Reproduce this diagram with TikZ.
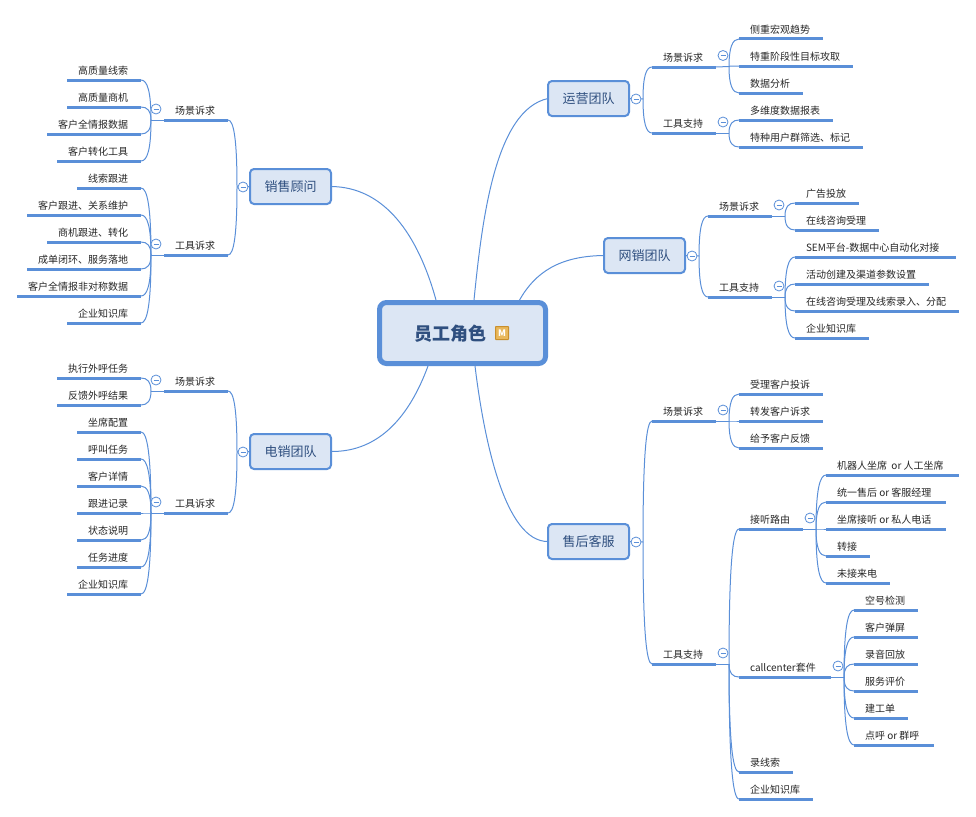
\documentclass[tikz,border=0pt]{standalone}
\usepackage{fontspec}
\setmainfont{Noto Sans CJK SC}
\usetikzlibrary{calc}
\definecolor{mapline}{HTML}{5A8FD8}
\definecolor{mapfill}{HTML}{DCE6F4}
\definecolor{maptext}{HTML}{2F4F7F}
\definecolor{leafink}{HTML}{262626}
\definecolor{iconfill}{HTML}{E9B85C}
\definecolor{iconedge}{HTML}{C98F2C}
\tikzset{
  barnode/.style={rectangle,draw=none,inner sep=0pt,outer sep=0pt,minimum height=0pt},
  barline/.style={draw=mapline,line width=3pt},
  leaftext/.style={inner sep=0pt,outer sep=0pt,text=leafink,font=\fontsize{10}{12}\selectfont},
  topicbox/.style={rectangle,rounded corners=4pt,draw=mapline,fill=mapfill,line width=2pt,text=maptext,inner sep=0pt,outer sep=0pt,minimum width=81pt,minimum height=35pt,font=\fontsize{13}{15}\selectfont},
  rootbox/.style={rectangle,rounded corners=7pt,draw=mapline,fill=mapfill,line width=5pt,inner sep=0pt,outer sep=0pt,minimum width=166pt,minimum height=61pt},
  roottext/.style={inner sep=0pt,text=maptext,font=\fontsize{18}{20}\selectfont\bfseries},
  conn/.style={draw=mapline,line width=1pt},
  fold/.style={circle,draw=mapline,fill=white,line width=0.8pt,minimum size=10pt,inner sep=0pt,outer sep=0pt},
  priority/.style={rectangle,rounded corners=0.5pt,draw=iconedge,fill=iconfill,line width=1pt,minimum size=13pt,inner sep=0pt,text=white,font=\fontsize{9}{9}\selectfont\bfseries}
}
\newcommand\barbase[4]{%
  \pgfmathsetmacro\barw{#3-#2}\pgfmathsetmacro\barc{(#2+#3)/2}%
  \node[barnode,minimum width=\barw pt] (#1) at (\barc,#4) {};
  \draw[barline] (#1.west) -- (#1.east);}
% name, x1, x2, y, text: text starts inside the bar
\newcommand\barR[5]{\barbase{#1}{#2}{#3}{#4}\node[leaftext,anchor=base west] (#1t) at ({#2+11},{#4-5.5}) {#5};}
\newcommand\barL[5]{\barbase{#1}{#2}{#3}{#4}\node[leaftext,anchor=base east] (#1t) at ({#3-13},{#4-5.5}) {#5};}
% curved connector from a junction to a bar end
\newcommand\link[2]{\draw[conn] let \p1=(#1),\p2=(#2),\p3=(\x1,\y2) in (\p1) .. controls ($(\p3)!0.3!(\p1)$) and ($(\p3)!0.35!(\p2)$) .. (\p2);}
\newcommand\foldmark[3]{\node[fold] (#1) at (#2,#3) {\textcolor{mapline}{\rule{5pt}{0.8pt}}};}
\begin{document}
\begin{tikzpicture}[x=1pt,y=-1pt]
\useasboundingbox (0,0) rectangle (976,816);
% root and topics
\node[rootbox] (root) at (462.5,333) {};
\node[roottext] (roott) at (450,333.5) {员工角色};
\node[priority] (rooticon) at (502,333) {M};
\node[topicbox] (yy) at (588.5,98.5) {运营团队};
\node[topicbox] (wx) at (644.5,255.5) {网销团队};
\node[topicbox] (sh) at (588.5,541.5) {售后客服};
\node[topicbox] (xs) at (290.5,186.5) {销售顾问};
\node[topicbox] (dx) at (290.5,451.5) {电销团队};
\coordinate (r1) at (474,300);
\coordinate (r2) at (519,301);
\coordinate (r3) at (475,366);
\coordinate (r4) at (436,300);
\coordinate (r5) at (428,366);
\draw[conn] (r1) .. controls (482,220) and (495,110) .. (yy.west);
\draw[conn] (r2) .. controls (535,272) and (560,256) .. (wx.west);
\draw[conn] (r3) .. controls (484,440) and (505,542) .. (sh.west);
\draw[conn] (r4) .. controls (418,235) and (385,187) .. (xs.east);
\draw[conn] (r5) .. controls (410,415) and (380,452) .. (dx.east);

% ---------- 运营团队
\coordinate (yyj) at (643,99);
\barR{yya}{652}{716}{67}{场景诉求}
\barR{yyb}{652}{716}{133}{工具支持}
\barR{yya1}{739}{823}{39}{侧重宏观趋势}
\barR{yya2}{739}{853}{66}{特重阶段性目标攻取}
\barR{yya3}{739}{803}{93}{数据分析}
\barR{yyb1}{739}{833}{120}{多维度数据报表}
\barR{yyb2}{739}{863}{147}{特种用户群筛选、标记}
\coordinate (yyaj) at (729,66.5);
\coordinate (yybj) at (729,133);
\draw[conn] (yy.east) -- (yyj);
\link{yyj}{yya.west}\link{yyj}{yyb.west}
\draw[conn] (yya.east) -- (yyaj);
\draw[conn] (yyb.east) -- (yybj);
\link{yyaj}{yya1.west}\link{yyaj}{yya2.west}\link{yyaj}{yya3.west}
\link{yybj}{yyb1.west}\link{yybj}{yyb2.west}
\foldmark{yyf}{636}{99}\foldmark{yyaf}{723}{55.5}\foldmark{yybf}{723}{122}

% ---------- 网销团队
\coordinate (wxj) at (699,256);
\barR{wxa}{708}{772}{216}{场景诉求}
\barR{wxb}{708}{772}{297}{工具支持}
\barR{wxa1}{795}{859}{203}{广告投放}
\barR{wxa2}{795}{879}{230}{在线咨询受理}
\barR{wxb1}{795}{956}{257}{SEM平台-数据中心自动化对接}
\barR{wxb2}{795}{929}{284}{活动创建及渠道参数设置}
\barR{wxb3}{795}{959}{311}{在线咨询受理及线索录入、分配}
\barR{wxb4}{795}{869}{338}{企业知识库}
\coordinate (wxaj) at (785,216);
\coordinate (wxbj) at (785,297);
\draw[conn] (wx.east) -- (wxj);
\link{wxj}{wxa.west}\link{wxj}{wxb.west}
\draw[conn] (wxa.east) -- (wxaj);
\draw[conn] (wxb.east) -- (wxbj);
\link{wxaj}{wxa1.west}\link{wxaj}{wxa2.west}
\link{wxbj}{wxb1.west}\link{wxbj}{wxb2.west}\link{wxbj}{wxb3.west}\link{wxbj}{wxb4.west}
\foldmark{wxf}{692}{256}\foldmark{wxaf}{779}{205}\foldmark{wxbf}{779}{286}

% ---------- 售后客服
\coordinate (shj) at (643,542);
\barR{sha}{652}{716}{421}{场景诉求}
\barR{shb}{652}{716}{664}{工具支持}
\barR{sha1}{739}{823}{394}{受理客户投诉}
\barR{sha2}{739}{823}{421}{转发客户诉求}
\barR{sha3}{739}{823}{448}{给予客户反馈}
\barR{shb1}{739}{803}{529}{接听路由}
\barR{shb2}{739}{831}{677}{callcenter套件}
\barR{shb3}{739}{793}{772}{录线索}
\barR{shb4}{739}{813}{799}{企业知识库}
\barR{shc1}{826}{959}{475}{机器人坐席\ \ or 人工坐席}
\barR{shc2}{826}{946}{502}{统一售后 or 客服经理}
\barR{shc3}{826}{946}{529}{坐席接听 or 私人电话}
\barR{shc4}{826}{870}{556}{转接}
\barR{shc5}{826}{890}{583}{未接来电}
\barR{shd1}{854}{918}{610}{空号检测}
\barR{shd2}{854}{918}{637}{客户弹屏}
\barR{shd3}{854}{918}{664}{录音回放}
\barR{shd4}{854}{918}{691}{服务评价}
\barR{shd5}{854}{908}{718}{建工单}
\barR{shd6}{854}{934}{745}{点呼 or 群呼}
\coordinate (shaj) at (729,421);
\coordinate (shbj) at (729,664);
\coordinate (shcj) at (816,529);
\coordinate (shdj) at (844,677);
\draw[conn] (sh.east) -- (shj);
\link{shj}{sha.west}\link{shj}{shb.west}
\draw[conn] (sha.east) -- (shaj);
\draw[conn] (shb.east) -- (shbj);
\link{shaj}{sha1.west}\link{shaj}{sha2.west}\link{shaj}{sha3.west}
\link{shbj}{shb1.west}\link{shbj}{shb2.west}\link{shbj}{shb3.west}\link{shbj}{shb4.west}
\draw[conn] (shb1.east) -- (shcj);
\draw[conn] (shb2.east) -- (shdj);
\link{shcj}{shc1.west}\link{shcj}{shc2.west}\link{shcj}{shc3.west}\link{shcj}{shc4.west}\link{shcj}{shc5.west}
\link{shdj}{shd1.west}\link{shdj}{shd2.west}\link{shdj}{shd3.west}\link{shdj}{shd4.west}\link{shdj}{shd5.west}\link{shdj}{shd6.west}
\foldmark{shf}{636}{542}\foldmark{shaf}{723}{410}\foldmark{shbf}{723}{653}\foldmark{shcf}{810}{518}\foldmark{shdf}{838}{666}

% ---------- 销售顾问
\coordinate (xsj) at (237,187);
\barL{xsa}{164}{228}{120}{场景诉求}
\barL{xsb}{164}{228}{255}{工具诉求}
\barL{xsa1}{67}{141}{80}{高质量线索}
\barL{xsa2}{67}{141}{107}{高质量商机}
\barL{xsa3}{47}{141}{134}{客户全情报数据}
\barL{xsa4}{57}{141}{161}{客户转化工具}
\barL{xsb1}{77}{141}{188}{线索跟进}
\barL{xsb2}{27}{141}{215}{客户跟进、关系维护}
\barL{xsb3}{47}{141}{242}{商机跟进、转化}
\barL{xsb4}{27}{141}{269}{成单闭环、服务落地}
\barL{xsb5}{17}{141}{296}{客户全情报非对称数据}
\barL{xsb6}{67}{141}{323}{企业知识库}
\coordinate (xsaj) at (151,120);
\coordinate (xsbj) at (151,255);
\draw[conn] (xs.west) -- (xsj);
\link{xsj}{xsa.east}\link{xsj}{xsb.east}
\draw[conn] (xsa.west) -- (xsaj);
\draw[conn] (xsb.west) -- (xsbj);
\link{xsaj}{xsa1.east}\link{xsaj}{xsa2.east}\link{xsaj}{xsa3.east}\link{xsaj}{xsa4.east}
\link{xsbj}{xsb1.east}\link{xsbj}{xsb2.east}\link{xsbj}{xsb3.east}\link{xsbj}{xsb4.east}\link{xsbj}{xsb5.east}\link{xsbj}{xsb6.east}
\foldmark{xsf}{243}{187}\foldmark{xsaf}{156}{109}\foldmark{xsbf}{156}{244}

% ---------- 电销团队
\coordinate (dxj) at (237,452);
\barL{dxa}{164}{228}{391}{场景诉求}
\barL{dxb}{164}{228}{513}{工具诉求}
\barL{dxa1}{57}{141}{378}{执行外呼任务}
\barL{dxa2}{57}{141}{405}{反馈外呼结果}
\barL{dxb1}{77}{141}{432}{坐席配置}
\barL{dxb2}{77}{141}{459}{呼叫任务}
\barL{dxb3}{77}{141}{486}{客户详情}
\barL{dxb4}{77}{141}{513}{跟进记录}
\barL{dxb5}{77}{141}{540}{状态说明}
\barL{dxb6}{77}{141}{567}{任务进度}
\barL{dxb7}{67}{141}{594}{企业知识库}
\coordinate (dxaj) at (151,391);
\coordinate (dxbj) at (151,513);
\draw[conn] (dx.west) -- (dxj);
\link{dxj}{dxa.east}\link{dxj}{dxb.east}
\draw[conn] (dxa.west) -- (dxaj);
\draw[conn] (dxb.west) -- (dxbj);
\link{dxaj}{dxa1.east}\link{dxaj}{dxa2.east}
\link{dxbj}{dxb1.east}\link{dxbj}{dxb2.east}\link{dxbj}{dxb3.east}\link{dxbj}{dxb4.east}\link{dxbj}{dxb5.east}\link{dxbj}{dxb6.east}\link{dxbj}{dxb7.east}
\foldmark{dxf}{243}{452}\foldmark{dxaf}{156}{380}\foldmark{dxbf}{156}{502}
\end{tikzpicture}
\end{document}
